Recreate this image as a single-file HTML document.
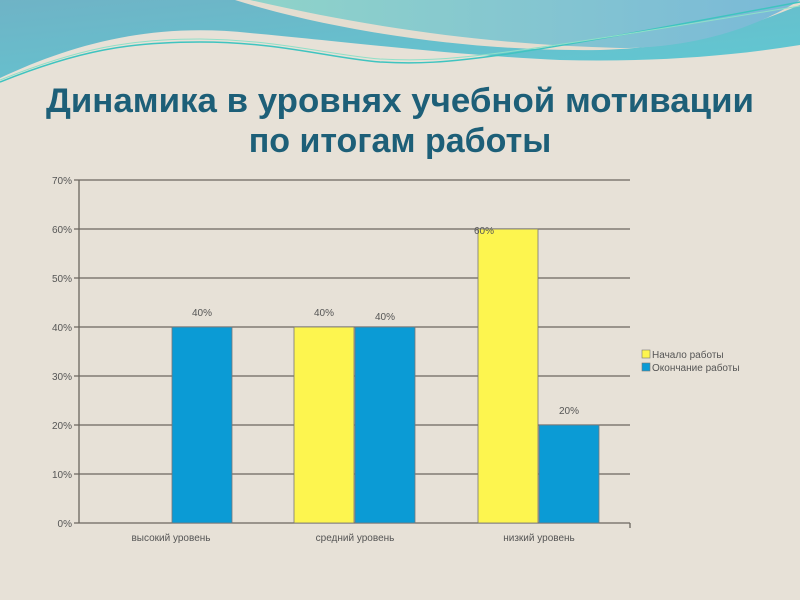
<!DOCTYPE html>
<html><head><meta charset="utf-8"><style>
body{margin:0;width:800px;height:600px;overflow:hidden;background:#e7e1d7;font-family:"Liberation Sans",sans-serif;}
</style></head><body>
<svg width="800" height="600" xmlns="http://www.w3.org/2000/svg" style="position:absolute;left:0;top:0">
<defs>
<linearGradient id="g1" x1="0" y1="0" x2="1" y2="1"><stop offset="0" stop-color="#6fb3c6"/><stop offset="1" stop-color="#5fcad3"/></linearGradient>
<linearGradient id="g2" x1="0" y1="0" x2="1" y2="0"><stop offset="0" stop-color="#8fd3c9"/><stop offset="1" stop-color="#7ab9d8"/></linearGradient>
</defs>
<rect width="800" height="600" fill="#e7e1d7"/>
<path d="M0,0 L800,0 L800,45 C720,58 640,62 560,60 C450,55 330,40 250,33 C150,22 70,45 0,78 Z" fill="url(#g1)"/>
<path d="M235,0 L800,0 L800,5 C740,30 680,48 600,50 C470,52 330,30 235,0 Z" fill="#e4ddd0"/>
<path d="M250,0 L800,0 C760,25 700,48 620,48 C500,45 380,30 250,0 Z" fill="url(#g2)"/>
<path d="M0,82 C80,50 130,42 200,42 C280,42 330,58 380,62 C450,66 500,58 800,2" fill="none" stroke="#3fc4c0" stroke-width="1.5"/>
<path d="M0,80 C80,48 130,39 200,39 C280,40 330,55 380,59 C450,63 500,55 800,6" fill="none" stroke="#8fe0c8" stroke-width="1"/>
<text x="400" y="112" text-anchor="middle" font-size="34" font-weight="bold" fill="#1d5f78" textLength="708" lengthAdjust="spacingAndGlyphs">Динамика в уровнях учебной мотивации</text>
<text x="400" y="152" text-anchor="middle" font-size="34" font-weight="bold" fill="#1d5f78">по итогам работы</text>
<g stroke="#6b665f" stroke-width="1.3">
<line x1="74" y1="180" x2="630" y2="180"/><line x1="74" y1="229" x2="630" y2="229"/>
<line x1="74" y1="278" x2="630" y2="278"/><line x1="74" y1="327" x2="630" y2="327"/>
<line x1="74" y1="376" x2="630" y2="376"/><line x1="74" y1="425" x2="630" y2="425"/>
<line x1="74" y1="474" x2="630" y2="474"/><line x1="74" y1="523" x2="630" y2="523"/>
<line x1="79" y1="180" x2="79" y2="523"/>
<line x1="630" y1="523" x2="630" y2="528"/>
</g>
<g font-size="10" fill="#555" text-anchor="end">
<text x="72" y="184">70%</text><text x="72" y="233">60%</text><text x="72" y="282">50%</text>
<text x="72" y="331">40%</text><text x="72" y="380">30%</text><text x="72" y="429">20%</text>
<text x="72" y="478">10%</text><text x="72" y="527">0%</text>
</g>
<g stroke="#777" stroke-width="0.8">
<rect x="172" y="327" width="60" height="196" fill="#0b9bd5"/>
<rect x="294" y="327" width="60" height="196" fill="#fdf54f"/>
<rect x="355" y="327" width="60" height="196" fill="#0b9bd5"/>
<rect x="478" y="229" width="60" height="294" fill="#fdf54f"/>
<rect x="539" y="425" width="60" height="98" fill="#0b9bd5"/>
</g>
<g font-size="10" fill="#555" text-anchor="middle">
<text x="202" y="316">40%</text><text x="324" y="316">40%</text><text x="385" y="320">40%</text>
<text x="484" y="234">60%</text><text x="569" y="414">20%</text>
<text x="171" y="541">высокий уровень</text><text x="355" y="541">средний уровень</text><text x="539" y="541">низкий уровень</text>
</g>
<rect x="642" y="350" width="8" height="8" fill="#fdf54f" stroke="#777" stroke-width="0.6"/>
<rect x="642" y="363" width="8" height="8" fill="#0b9bd5" stroke="#777" stroke-width="0.6"/>
<g font-size="10" fill="#555"><text x="652" y="358">Начало работы</text><text x="652" y="371">Окончание работы</text></g>
</svg>
</body></html>
